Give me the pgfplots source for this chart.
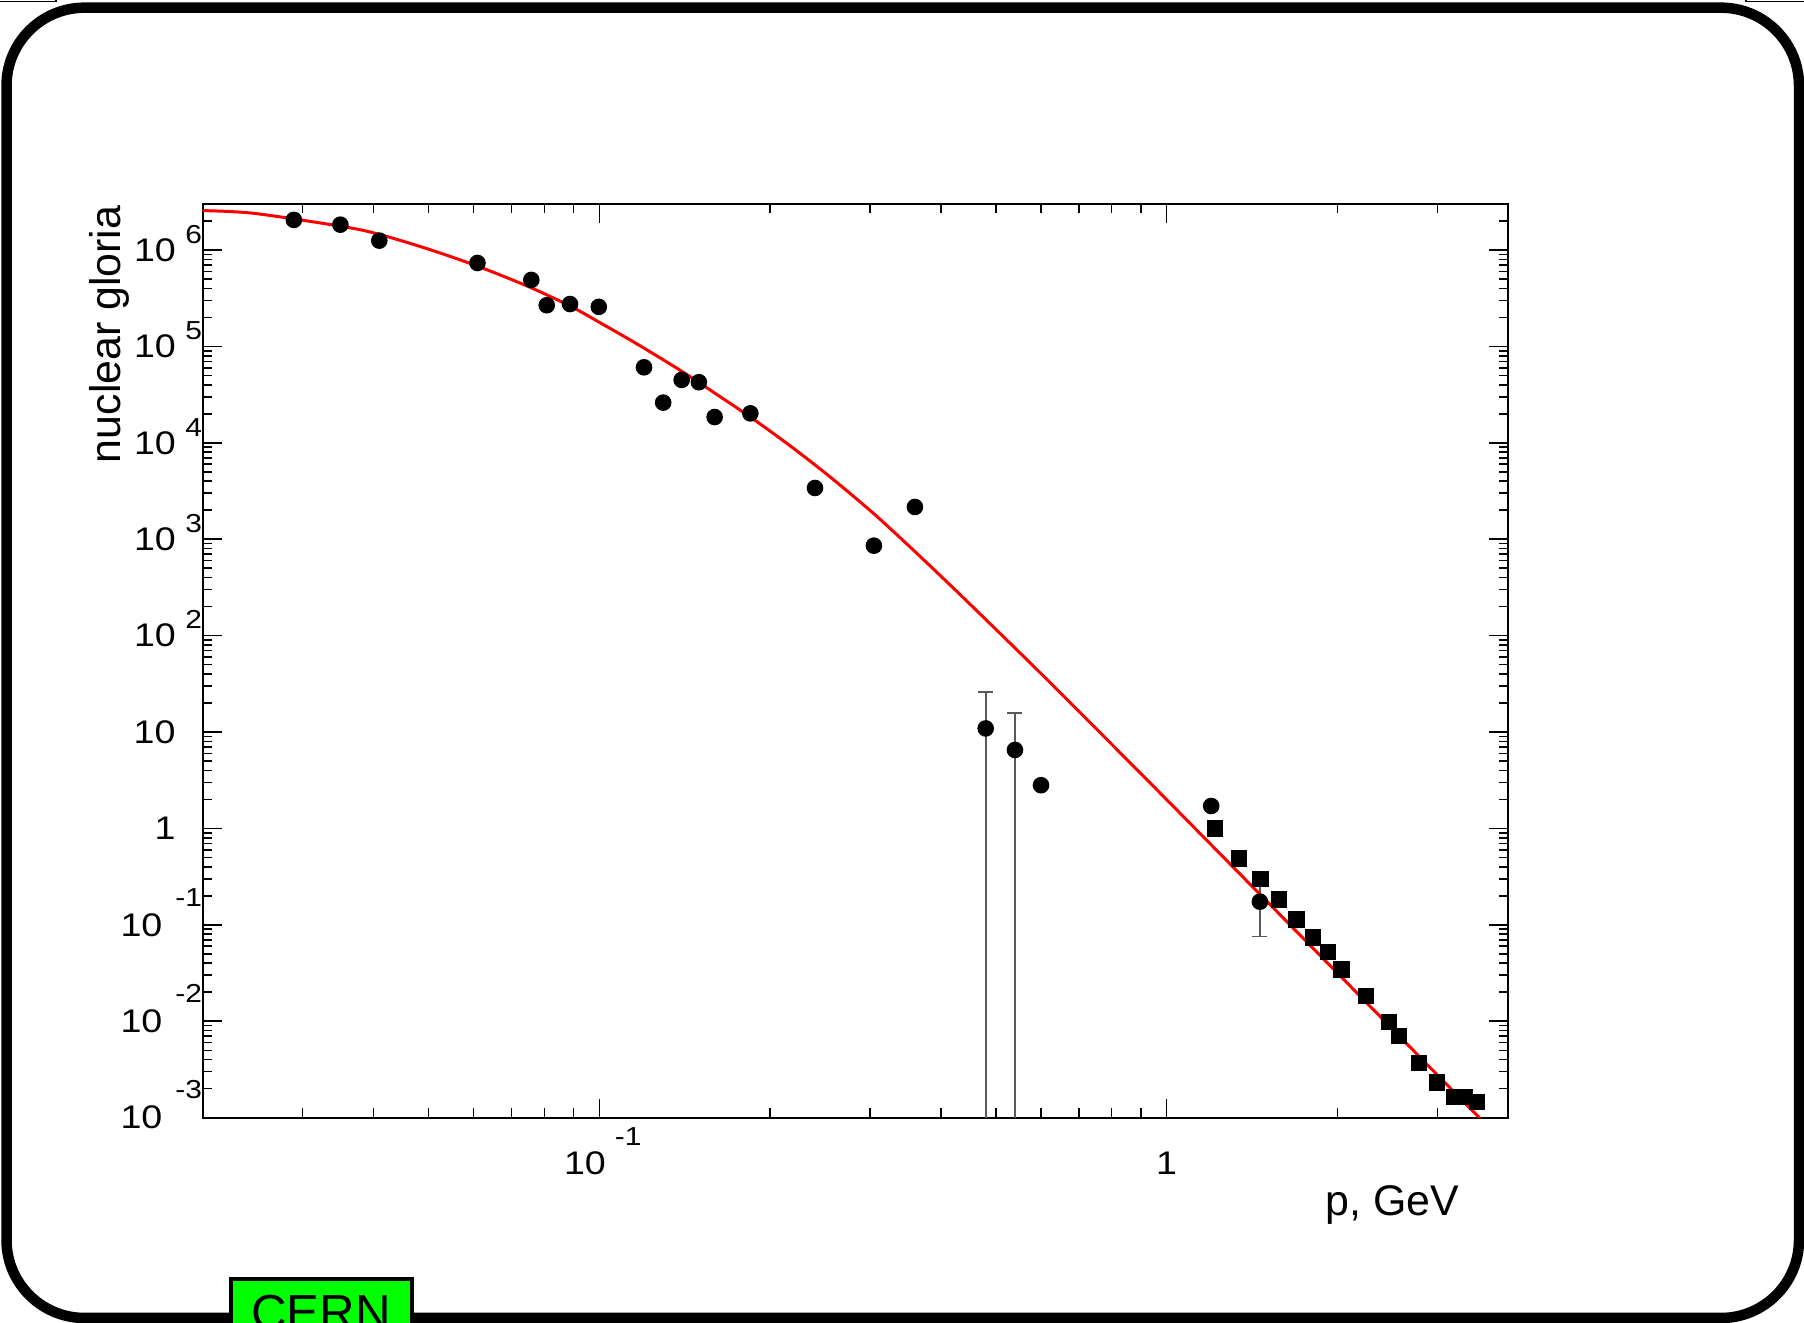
\documentclass[border=0pt]{standalone}
\usepackage{fontspec}
\setmainfont{Liberation Sans}
\usepackage{graphicx}
\usepackage{pgfplots}
\pgfplotsset{compat=1.18}
\definecolor{cerngreen}{RGB}{0,255,0}
\newcommand{\tnum}[1]{\scalebox{1.15}[1]{\fontsize{9.3}{11}\selectfont #1}}
\newcommand{\texp}[1]{\scalebox{1.15}[1]{\fontsize{7.4}{9}\selectfont #1}}
\newcommand{\lpos}[1]{\tnum{10}\hspace{0.95mm}\smash{\raisebox{1.8mm}{\texp{#1}}}}
\newcommand{\lneg}[1]{\tnum{10}\hspace{1.3mm}\smash{\raisebox{3.0mm}{\texp{#1}}}}
\newcommand{\lnegx}[1]{\tnum{10}\hspace{0.9mm}\smash{\raisebox{2.9mm}{\texp{#1}}}}
\newcommand{\lnone}[1]{\tnum{#1}\kern2.65mm}
\begin{document}
\begin{tikzpicture}
\useasboundingbox (0,0) rectangle (18.04,13.23);
\clip (0,0) rectangle (18.04,13.23);
\draw[line width=1.05mm, rounded corners=0.78cm] (0.065,0.05) rectangle (17.99,13.153);
\draw[line width=0.15mm] (0,13.217) -- (0.56,13.217) -- (0.56,13.25);
\draw[line width=0.15mm] (18.05,13.217) -- (17.46,13.217) -- (17.46,13.25);
\begin{axis}[
  at={(2.027cm,2.053cm)}, anchor=south west,
  scale only axis, width=13.056cm, height=9.137cm,
  xmode=log, ymode=log,
  xmin=0.02, xmax=4, ymin=1e-3, ymax=3e6,
  axis line style={line width=0.6pt},
  tick align=inside, tick pos=both,
  major tick length=1.9mm, minor tick length=0.95mm,
  every tick/.style={black, line width=0.45pt},
  xtick={0.1,1},
  xticklabels={{\lnegx{-1}},{\tnum{1}\kern0.7mm}},
  xticklabel style={anchor=north, inner sep=0pt, yshift=-3.33mm, xshift=0.35mm},
  minor xtick={0.02,0.03,0.04,0.05,0.06,0.07,0.08,0.09,0.2,0.3,0.4,0.5,0.6,0.7,0.8,0.9,2,3,4},
  ytick={1e-3,1e-2,1e-1,1,10,1e2,1e3,1e4,1e5,1e6},
  yticklabels={{\lneg{-3}},{\lneg{-2}},{\lneg{-1}},{\lnone{1}},{\lnone{10}},{\lpos{2}},{\lpos{3}},{\lpos{4}},{\lpos{5}},{\lpos{6}}},
  yticklabel style={anchor=east, inner sep=0pt},
  minor ytick={2e-3,3e-3,4e-3,5e-3,6e-3,7e-3,8e-3,9e-3,
    2e-2,3e-2,4e-2,5e-2,6e-2,7e-2,8e-2,9e-2,
    2e-1,3e-1,4e-1,5e-1,6e-1,7e-1,8e-1,9e-1,
    2,3,4,5,6,7,8,9,
    20,30,40,50,60,70,80,90,
    200,300,400,500,600,700,800,900,
    2e3,3e3,4e3,5e3,6e3,7e3,8e3,9e3,
    2e4,3e4,4e4,5e4,6e4,7e4,8e4,9e4,
    2e5,3e5,4e5,5e5,6e5,7e5,8e5,9e5,
    2e6},
]
% circles without error bars
\addplot[only marks, mark=*, mark size=0.76mm, black] coordinates {
  (0.02895,2.05e6) (0.03497,1.83e6) (0.04095,1.25e6) (0.0610,7.33e5)
  (0.0759,4.89e5) (0.0808,2.67e5) (0.0888,2.75e5) (0.0998,2.57e5)
  (0.1199,6.07e4) (0.1296,2.61e4) (0.1397,4.49e4) (0.1498,4.25e4)
  (0.1597,1.85e4) (0.1846,2.02e4) (0.2400,3.40e3) (0.3048,857)
  (0.3600,2.16e3) (0.6005,2.81) (1.198,1.71)
};
% circles with error bars
\addplot[only marks, mark=*, mark size=0.76mm, black,
  error bars/.cd, y dir=both, y explicit,
  error bar style={line width=0.45pt, black!65},
  error mark options={rotate=90, mark size=0.75mm, line width=0.45pt, black!65}]
  coordinates {
  (0.4798,10.9) += (0,15.3) -= (0,10.8999)
  (0.5403,6.52) += (0,9.13) -= (0,6.5199)
  (1.46,0.174) += (0,0.098) -= (0,0.098)
};
% squares
\addplot[only marks, mark=square*, mark size=0.75mm, black] coordinates {
  (1.218,1.00) (1.342,0.486) (1.463,0.301) (1.579,0.184) (1.693,0.114)
  (1.81,0.0743) (1.926,0.0524) (2.032,0.0343) (2.246,0.0183) (2.464,0.00984)
  (2.57,0.00703) (2.783,0.00369) (2.992,0.00231) (3.212,0.00163)
  (3.356,0.00163) (3.52,0.00146)
};
% fitted curve
\addplot[red, line width=0.85pt, smooth] coordinates {
  (0.0200,2.56e6) (0.0246,2.40e6) (0.0353,1.75e6) (0.0408,1.46e6)
  (0.0500,1.02e6) (0.0613,6.72e5) (0.0751,4.16e5) (0.0893,2.58e5)
  (0.1003,1.76e5) (0.1159,1.08e5) (0.136,6.10e4) (0.1485,4.37e4)
  (0.1843,1.862e4) (0.2168,9.33e3) (0.255,4.44e3) (0.304,1.86e3)
  (0.3576,773) (0.4206,312) (0.4883,133) (0.5666,56.6) (0.6573,23.8)
  (0.7731,9.14) (0.8974,3.78) (1.0,1.99) (1.216,0.619) (1.5,0.1766)
  (2.0,0.0316) (2.5,0.0083) (3.0,0.00277) (3.6,9.3e-4)
};
\end{axis}
\node[rotate=90, anchor=base east, inner sep=0pt, font=\fontsize{12.2}{14}\selectfont] at (1.21,11.18) {nuclear gloria};
\node[anchor=base east, inner sep=0pt, font=\fontsize{12.2}{14}\selectfont] at (14.60,1.07) {p, GeV};
\draw[line width=0.4mm, fill=cerngreen] (2.31,-0.5) rectangle (4.12,0.44);
\node[anchor=base west, inner sep=0pt, font=\fontsize{14}{16}\selectfont] at (2.505,-0.07) {CERN};
\end{tikzpicture}
\end{document}
